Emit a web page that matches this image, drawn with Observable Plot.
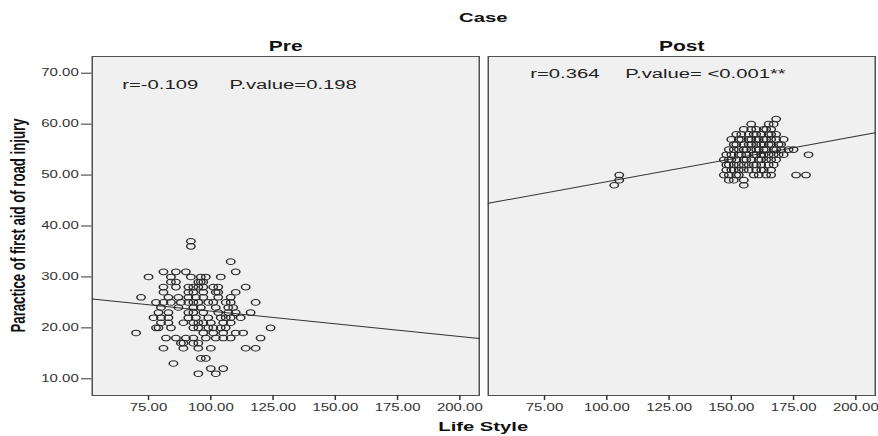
<!DOCTYPE html>
<html>
<head>
<meta charset="utf-8">
<script src="https://cdn.jsdelivr.net/npm/d3@7"></script>
<script src="https://cdn.jsdelivr.net/npm/@observablehq/plot@0.6"></script>
<style>
  html, body { margin: 0; padding: 0; background: #ffffff; }
  #chart { width: 878px; height: 436px; overflow: hidden; }
</style>
</head>
<body>
<div id="chart"></div>
<script>
// ---- data ----
const cases = ["Pre", "Post"];

// Pre: practice score (y) and the life-style scores (x) observed at that score
const preScores = [37, 36, 33, 31, 30, 29, 28, 27, 26, 25, 24, 23, 22, 21, 20, 19, 18, 17, 16, 14, 13, 12, 11];
const preLifeStyle = [
  [92], [92], [108],
  [81, 86, 90, 110],
  [75, 84, 92, 96, 98, 104],
  [84, 86, 95, 96, 97],
  [81, 86, 91, 93, 95, 97, 101, 103, 114],
  [81, 91, 93, 97, 102, 103, 110],
  [72, 83, 87, 91, 94, 97, 103, 108],
  [78, 81, 84, 88, 91, 93, 95, 99, 101, 106, 108, 118],
  [80, 87, 93, 96, 102, 107, 109],
  [79, 83, 91, 93, 97, 103, 107, 110, 116],
  [77, 80, 83, 91, 94, 99, 104, 106, 108, 112],
  [80, 83, 89, 93, 95, 97, 100, 105, 108],
  [78, 79, 84, 93, 95, 99, 101, 104, 106, 124],
  [70, 97, 101, 105, 110, 113],
  [82, 86, 90, 93, 98, 102, 105, 108, 120],
  [88, 89, 93, 95],
  [81, 89, 95, 100, 114, 118],
  [96, 98], [85], [100, 105], [95, 102]
];

// Post
const postScores = [61, 60, 59, 58, 57, 56, 55, 54, 53, 52, 51, 50, 49, 48];
const postLifeStyle = [
  [168],
  [158, 165, 167],
  [155, 158, 160, 163, 164, 166],
  [152, 154, 157, 159, 160, 162, 165, 166, 168],
  [150, 153, 154, 157, 158, 160, 161, 163, 164, 166, 168, 171],
  [151, 152, 155, 157, 158, 160, 162, 163, 165, 166, 169, 170],
  [149, 151, 153, 155, 156, 158, 160, 161, 163, 164, 167, 168, 170, 173, 175],
  [148, 150, 153, 154, 156, 159, 160, 162, 163, 165, 167, 169, 171, 181],
  [147, 149, 150, 152, 155, 156, 158, 161, 162, 164, 166, 168],
  [148, 149, 151, 153, 155, 157, 159, 160, 162, 165, 167],
  [148, 150, 151, 153, 155, 157, 160, 162, 163, 166],
  [105, 147, 149, 152, 153, 159, 161, 164, 166, 176, 180],
  [105, 149, 151, 155],
  [103, 155]
];

// fit lines (intercept, slope) and annotations per case
const fitIntercept = [28.3, 39.8];
const fitSlope = [-0.05, 0.089];
const rTexts = ["r=-0.109", "r=0.364"];
const pTexts = ["P.value=0.198", "P.value= <0.001**"];

const xTicks = [75, 100, 125, 150, 175, 200];
const yTicks = [10, 20, 30, 40, 50, 60, 70];
const xDomain = [52.4, 207.8];
const yDomain = [6.72, 73.28];

const xTitle = "Life Style";
const yTitle = "Paractice of first aid of road injury";
const fxTitle = "Case";

// ---- derived tables ----
function expand(caseName, scores, lists) {
  return scores.flatMap((s, i) => lists[i].map(x => ({case: caseName, x, y: s})));
}
const points = [
  ...expand("Pre", preScores, preLifeStyle),
  ...expand("Post", postScores, postLifeStyle)
];
const fitLines = cases.flatMap((c, i) =>
  xDomain.map(x => ({case: c, x, y: fitIntercept[i] + fitSlope[i] * x}))
);
const notes = cases.map((c, i) => ({case: c, r: rTexts[i], p: pTexts[i]}));

// The reference is horizontally stretched by ~1.5; draw in a narrower
// logical space and stretch the SVG to 878px.
const S = 1.5;
const W = 878 / S;
const H = 436;
const font = "'Liberation Sans', Arial, Helvetica, sans-serif";

const svg = Plot.plot({
  width: W,
  height: H,
  marginLeft: 61,
  marginRight: 2,
  marginTop: 56,
  marginBottom: 41,
  style: {background: "#ffffff", fontFamily: font, color: "#222"},
  fx: {domain: cases, padding: 0.024, axis: null, label: null},
  x: {domain: xDomain, label: null},
  y: {domain: yDomain, label: null},
  marks: [
    Plot.frame({fill: "#f0f0f0", stroke: "#505050", strokeWidth: 1}),
    Plot.axisX({ticks: xTicks, tickFormat: d3.format(".2f"), tickSize: 5, tickPadding: 3,
                fontSize: 10, label: null, stroke: "#333", fill: "#333"}),
    Plot.axisY({ticks: yTicks, tickFormat: d3.format(".2f"), tickSize: 7, tickPadding: 2,
                fontSize: 10, label: null, stroke: "#333", fill: "#333", facetAnchor: "left"}),
    Plot.line(fitLines, {x: "x", y: "y", fx: "case", z: "case", stroke: "#333", strokeWidth: 1}),
    Plot.dot(points, {x: "x", y: "y", fx: "case", r: 2.8, stroke: "#2a2a2a", strokeWidth: 1, fill: "none"}),
    Plot.text(cases, {fx: d => d, text: d => d, frameAnchor: "top", lineAnchor: "bottom", dy: -6,
                      fontSize: 14, fontWeight: "bold", fill: "#111"}),
    Plot.text(notes.filter(d => d.case === "Pre"), {fx: "case", text: "r", frameAnchor: "top-left",
                      textAnchor: "start", lineAnchor: "middle", dx: 20, dy: 28, fontSize: 13.5, fill: "#222"}),
    Plot.text(notes.filter(d => d.case === "Pre"), {fx: "case", text: "p", frameAnchor: "top-left",
                      textAnchor: "start", lineAnchor: "middle", dx: 91.5, dy: 28, fontSize: 13.5, fill: "#222"}),
    Plot.text(notes.filter(d => d.case === "Post"), {fx: "case", text: "r", frameAnchor: "top-left",
                      textAnchor: "start", lineAnchor: "middle", dx: 28, dy: 17.3, fontSize: 13.5, fill: "#222"}),
    Plot.text(notes.filter(d => d.case === "Post"), {fx: "case", text: "p", frameAnchor: "top-left",
                      textAnchor: "start", lineAnchor: "middle", dx: 91.3, dy: 17.3, fontSize: 13.5, fill: "#222"})
  ]
});

// titles
const sel = d3.select(svg);
sel.append("text").text(fxTitle)
  .attr("x", (61 + W - 2) / 2).attr("y", 22)
  .attr("text-anchor", "middle").attr("font-size", 13.5).attr("font-weight", "bold")
  .attr("font-family", font).attr("fill", "#111");
sel.append("text").text(xTitle)
  .attr("x", (61 + W - 2) / 2).attr("y", 431)
  .attr("text-anchor", "middle").attr("font-size", 13.5).attr("font-weight", "bold")
  .attr("font-family", font).attr("fill", "#111");
sel.append("text").text(yTitle)
  .attr("transform", `translate(16.5,${(56 + H - 41) / 2}) rotate(-90)`)
  .attr("text-anchor", "middle").attr("font-size", 13.2).attr("font-weight", "bold")
  .attr("font-family", font).attr("fill", "#111");

// stretch horizontally to the final size
svg.setAttribute("width", 878);
svg.setAttribute("height", H);
svg.setAttribute("viewBox", `0 0 ${W} ${H}`);
svg.setAttribute("preserveAspectRatio", "none");
svg.style.width = "878px";
svg.style.height = H + "px";
svg.style.maxWidth = "none";

document.getElementById("chart").appendChild(svg);
</script>
</body>
</html>
